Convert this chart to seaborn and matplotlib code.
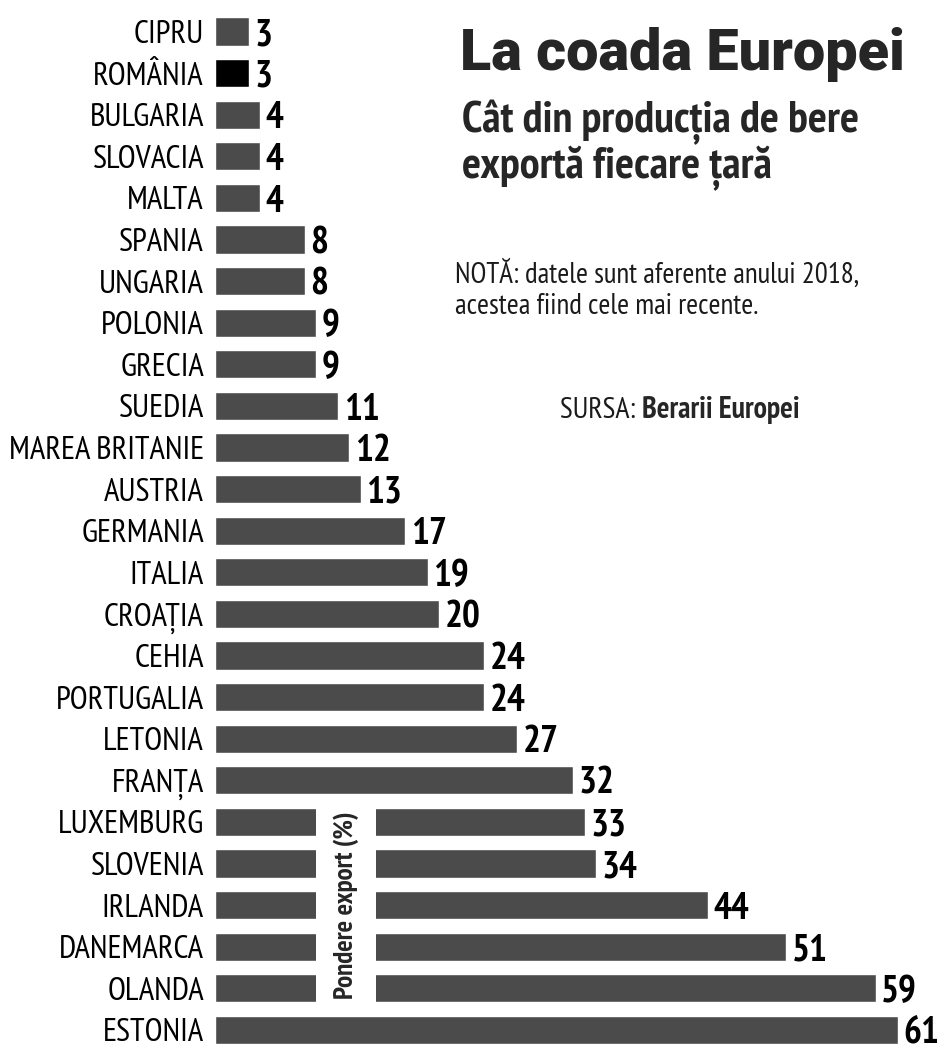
import matplotlib
matplotlib.use("Agg")
import matplotlib.pyplot as plt
from matplotlib.patches import Rectangle
import seaborn as sns

# Data (export share of beer production, %)
countries = ["CIPRU", "ROMÂNIA", "BULGARIA", "SLOVACIA", "MALTA", "SPANIA",
             "UNGARIA", "POLONIA", "GRECIA", "SUEDIA", "MAREA BRITANIE",
             "AUSTRIA", "GERMANIA", "ITALIA", "CROAȚIA", "CEHIA", "PORTUGALIA",
             "LETONIA", "FRANȚA", "LUXEMBURG", "SLOVENIA", "IRLANDA",
             "DANEMARCA", "OLANDA", "ESTONIA"]
export_share = [3, 3, 4, 4, 4, 8, 8, 9, 9, 11, 12, 13, 17, 19, 20, 24, 24,
                27, 32, 33, 34, 44, 51, 59, 61]
highlight = "ROMÂNIA"

BAR = "#4b4b4b"
NARROW = ["PT Sans Narrow", "Roboto Condensed", "DejaVu Sans"]
HEAVY = ["Roboto", "DejaVu Sans"]

sns.set_theme(style="white")
plt.rcParams["font.family"] = NARROW

W, H = 947, 1048
fig = plt.figure(figsize=(W / 100, H / 100), dpi=100)
ax = fig.add_axes([215 / W, 0, (W - 215) / W, 1])

colors = ["black" if c == highlight else BAR for c in countries]
sns.barplot(x=export_share, y=countries, hue=countries, palette=colors,
            legend=False, orient="h", width=0.68, saturation=1, ax=ax)

# pixel layout of the reference: first bar centre ~31px, pitch ~41.6px, 11.2px per %
pitch = 41.6
ax.set_ylim((H - 31.5) / pitch, -31.5 / pitch)
ax.set_xlim(0, (W - 215) / 11.2)
sns.despine(ax=ax, left=True, bottom=True)
ax.set_xticks([])
ax.set_xlabel("")
ax.set_ylabel("")
ax.tick_params(axis="y", length=0, pad=8)
for lbl in ax.get_yticklabels():
    lbl.set_fontsize(23.5)
    lbl.set_color("black")

# value labels
for i, v in enumerate(export_share):
    ax.annotate(str(v), xy=(v, i), xytext=(4, -3), textcoords="offset points",
                ha="left", va="center", fontsize=27, fontweight="bold",
                color="black", annotation_clip=False)

# white gap with the rotated caption
y0 = countries.index("LUXEMBURG") - 0.5
y1 = countries.index("OLANDA") + 0.5
ax.add_patch(Rectangle((9.0, y0), 5.4, y1 - y0, facecolor="white",
                       edgecolor="none", zorder=5))
ax.text(11.7, (y0 + y1) / 2, "Pondere export (%)", rotation=90, ha="center",
        va="center", fontsize=19.5, fontweight="bold", zorder=6)


def fy(px):
    return 1 - px / H


# titles and notes
fig.text(460 / W, fy(70), "La coada Europei", fontsize=41.5, fontweight="black",
         family=HEAVY, va="baseline")
fig.text(462 / W, fy(132), "Cât din producția de bere", fontsize=32,
         fontweight="bold", va="baseline")
fig.text(462 / W, fy(178), "exportă fiecare țară", fontsize=32,
         fontweight="bold", va="baseline")
fig.text(455 / W, fy(283), "NOTĂ: datele sunt aferente anului 2018,",
         fontsize=20.8, va="baseline", color="#1a1a1a")
fig.text(455 / W, fy(314), "acestea fiind cele mai recente.",
         fontsize=20.8, va="baseline", color="#1a1a1a")
src = fig.text(560 / W, fy(418), "SURSA: ", fontsize=21.5, va="baseline",
               color="#1a1a1a")
plt.annotate("Berarii Europei", xy=(1, 0), xycoords=src, va="bottom",
             fontsize=21.5, fontweight="bold")

fig.savefig("out.png", dpi=100, facecolor="white")
